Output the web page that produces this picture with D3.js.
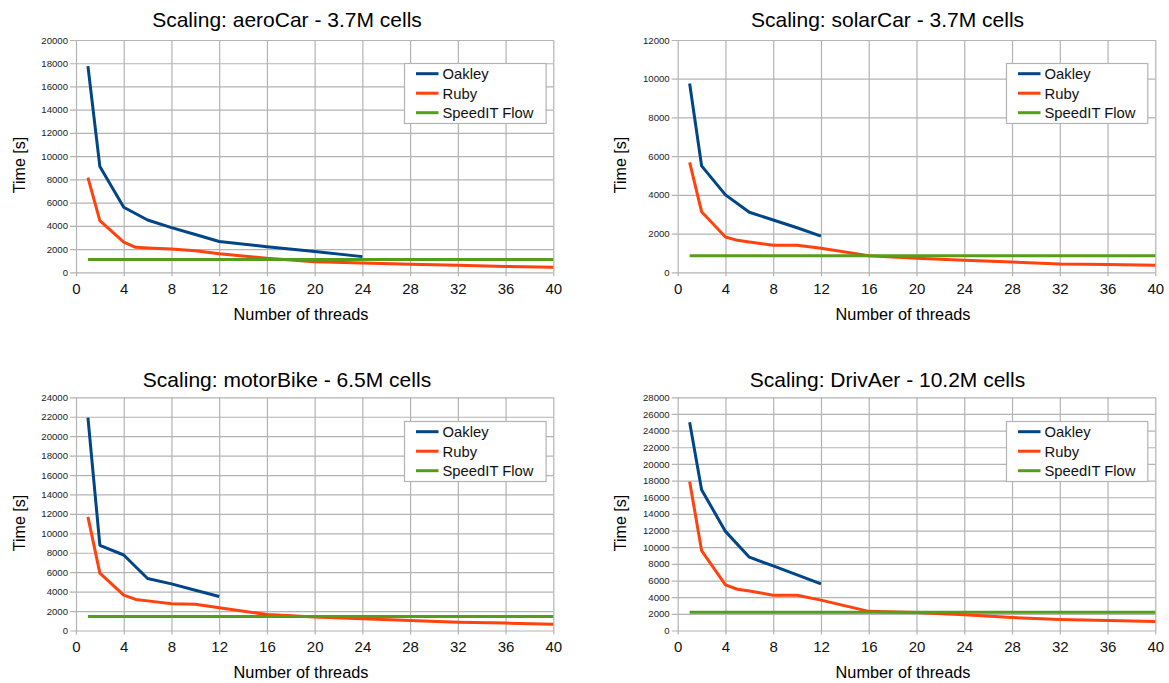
<!DOCTYPE html>
<html>
<head>
<meta charset="utf-8">
<script src="https://cdn.jsdelivr.net/npm/d3@7"></script>
<style>
  html, body { margin: 0; padding: 0; background: #fff; }
  svg { display: block; font-family: "Liberation Sans", Arial, sans-serif; }
</style>
</head>
<body>
<svg id="chart" width="1169" height="683"></svg>
<script>
// ---- data -------------------------------------------------------------
const titles = [
  "Scaling: aeroCar - 3.7M cells",
  "Scaling: solarCar - 3.7M cells",
  "Scaling: motorBike - 6.5M cells",
  "Scaling: DrivAer - 10.2M cells"
];
const seriesNames = ["Oakley", "Ruby", "SpeedIT Flow"];
const xTicks = [0, 4, 8, 12, 16, 20, 24, 28, 32, 36, 40];
const yMaxima = [20000, 12000, 24000, 28000];
const yTickStep = 2000;

// thread counts used on each machine
const oakleyThreadsAero = [1, 2, 4, 6, 8, 10, 12, 16, 20, 24];
const oakleyThreads = [1, 2, 4, 6, 8, 10, 12];
const rubyThreads = [1, 2, 4, 5, 6, 8, 10, 12, 16, 20, 24, 28, 32, 36, 40];
const speeditThreads = [1, 40];

// run times [s]
const oakleyAero  = [17750, 9100, 5600, 4500, 3850, 3250, 2650, 2200, 1800, 1350];
const rubyAero    = [8150, 4450, 2600, 2150, 2100, 2000, 1850, 1600, 1200, 900, 800, 700, 600, 500, 430];
const speeditAero = [1100, 1100];

const oakleySolar  = [9750, 5500, 4000, 3100, 2700, 2300, 1870];
const rubySolar    = [5680, 3130, 1820, 1650, 1570, 1400, 1400, 1240, 860, 720, 620, 530, 430, 400, 360];
const speeditSolar = [860, 860];

const oakleyMotor  = [21900, 8770, 7770, 5350, 4800, 4150, 3500];
const rubyMotor    = [11700, 5900, 3650, 3200, 3050, 2750, 2700, 2350, 1650, 1380, 1200, 1030, 860, 760, 650];
const speeditMotor = [1450, 1450];

const oakleyDriv  = [25000, 16900, 11900, 8800, 7750, 6680, 5600];
const rubyDriv    = [17900, 9600, 5480, 4950, 4750, 4230, 4230, 3650, 2300, 2150, 1880, 1560, 1320, 1200, 1080];
const speeditDriv = [2200, 2200];

const colors = ["#004586", "#ff420e", "#579d1c"];

// ---- layout -------------------------------------------------------------
const colX = [[76, 553.3], [677.7, 1155.3]];
const rowY = [[40, 272.3], [397.3, 630.5]];
const titleCx = [287, 887.5];
const titleBaseline = [26.5, 386.5];
const xLabelCx = [301, 903];
const xLabelBaseline = [320, 678];
const yLabelX = [19, 620];
const yLabelCy = [165, 523];
const legendBox = [[404, 545.6], [1006, 1147.3]];
const legendTop = [63, 421];

const pairs = (xs, ys) => xs.map((x, i) => [x, ys[i]]);

const panels = [
  { title: titles[0], yMax: yMaxima[0], series: [
      pairs(oakleyThreadsAero, oakleyAero), pairs(rubyThreads, rubyAero), pairs(speeditThreads, speeditAero)] },
  { title: titles[1], yMax: yMaxima[1], series: [
      pairs(oakleyThreads, oakleySolar), pairs(rubyThreads, rubySolar), pairs(speeditThreads, speeditSolar)] },
  { title: titles[2], yMax: yMaxima[2], series: [
      pairs(oakleyThreads, oakleyMotor), pairs(rubyThreads, rubyMotor), pairs(speeditThreads, speeditMotor)] },
  { title: titles[3], yMax: yMaxima[3], series: [
      pairs(oakleyThreads, oakleyDriv), pairs(rubyThreads, rubyDriv), pairs(speeditThreads, speeditDriv)] }
];

const svg = d3.select("#chart");
const gridColor = "#b3b3b3";

panels.forEach((p, idx) => {
  const col = idx % 2, row = Math.floor(idx / 2);
  const [x0, x1] = colX[col];
  const [y0, y1] = rowY[row];
  const x = d3.scaleLinear().domain([0, 40]).range([x0, x1]);
  const y = d3.scaleLinear().domain([0, p.yMax]).range([y1, y0]);
  const yTicks = d3.range(0, p.yMax + 1, yTickStep);

  const g = svg.append("g");

  // horizontal grid + y axis
  const yAxis = d3.axisLeft(y).tickValues(yTicks).tickFormat(d3.format("d"))
    .tickSize(-(x1 - x0) - 0).tickPadding(8);
  const ya = g.append("g").attr("transform", `translate(${x0},0)`).call(yAxis);
  ya.select(".domain").remove();
  ya.selectAll(".tick line").attr("x1", -6).attr("x2", x1 - x0)
    .attr("stroke", gridColor).attr("stroke-width", 1.2);
  ya.selectAll(".tick text").attr("x", -8).attr("font-size", 9.6)
    .attr("fill", "#222").attr("font-family", "Liberation Sans, Arial, sans-serif");

  // vertical grid + x axis
  const xAxis = d3.axisBottom(x).tickValues(xTicks).tickFormat(d3.format("d"));
  const xa = g.append("g").attr("transform", `translate(0,${y1})`).call(xAxis);
  xa.select(".domain").remove();
  xa.selectAll(".tick line").attr("y1", 4).attr("y2", -(y1 - y0))
    .attr("stroke", gridColor).attr("stroke-width", 1.2);
  xa.selectAll(".tick text").attr("y", 11).attr("dy", "0.71em").attr("font-size", 15)
    .attr("fill", "#111").attr("font-family", "Liberation Sans, Arial, sans-serif");

  // series lines
  const line = d3.line().x(d => x(d[0])).y(d => y(d[1]));
  p.series.forEach((s, i) => {
    g.append("path").datum(s).attr("d", line)
      .attr("fill", "none").attr("stroke", colors[i])
      .attr("stroke-width", 3).attr("stroke-linejoin", "round");
  });

  // title and axis labels
  g.append("text").attr("x", titleCx[col]).attr("y", titleBaseline[row])
    .attr("text-anchor", "middle").attr("font-size", 21).attr("fill", "#000").text(p.title);
  g.append("text").attr("x", xLabelCx[col]).attr("y", xLabelBaseline[row])
    .attr("text-anchor", "middle").attr("font-size", 16.3).attr("fill", "#000").text("Number of threads");
  g.append("text")
    .attr("transform", `translate(${yLabelX[col] + 5.5},${yLabelCy[row]}) rotate(-90)`)
    .attr("text-anchor", "middle").attr("font-size", 16).attr("fill", "#000").text("Time [s]");

  // legend
  const [lx0, lx1] = legendBox[col];
  const ly0 = legendTop[row];
  const lg = g.append("g");
  lg.append("rect").attr("x", lx0 + 0.5).attr("y", ly0 + 0.5)
    .attr("width", lx1 - lx0).attr("height", 60)
    .attr("fill", "#fff").attr("stroke", gridColor).attr("stroke-width", 1.2);
  seriesNames.forEach((name, i) => {
    const cy = ly0 + 10.7 + i * 19.5;
    lg.append("line").attr("x1", lx0 + 12).attr("x2", lx0 + 34.5)
      .attr("y1", cy).attr("y2", cy).attr("stroke", colors[i]).attr("stroke-width", 3);
    lg.append("text").attr("x", lx0 + 38.5).attr("y", cy).attr("dy", "0.36em")
      .attr("font-size", 14.8).attr("fill", "#111").text(name);
  });
});
</script>
</body>
</html>
